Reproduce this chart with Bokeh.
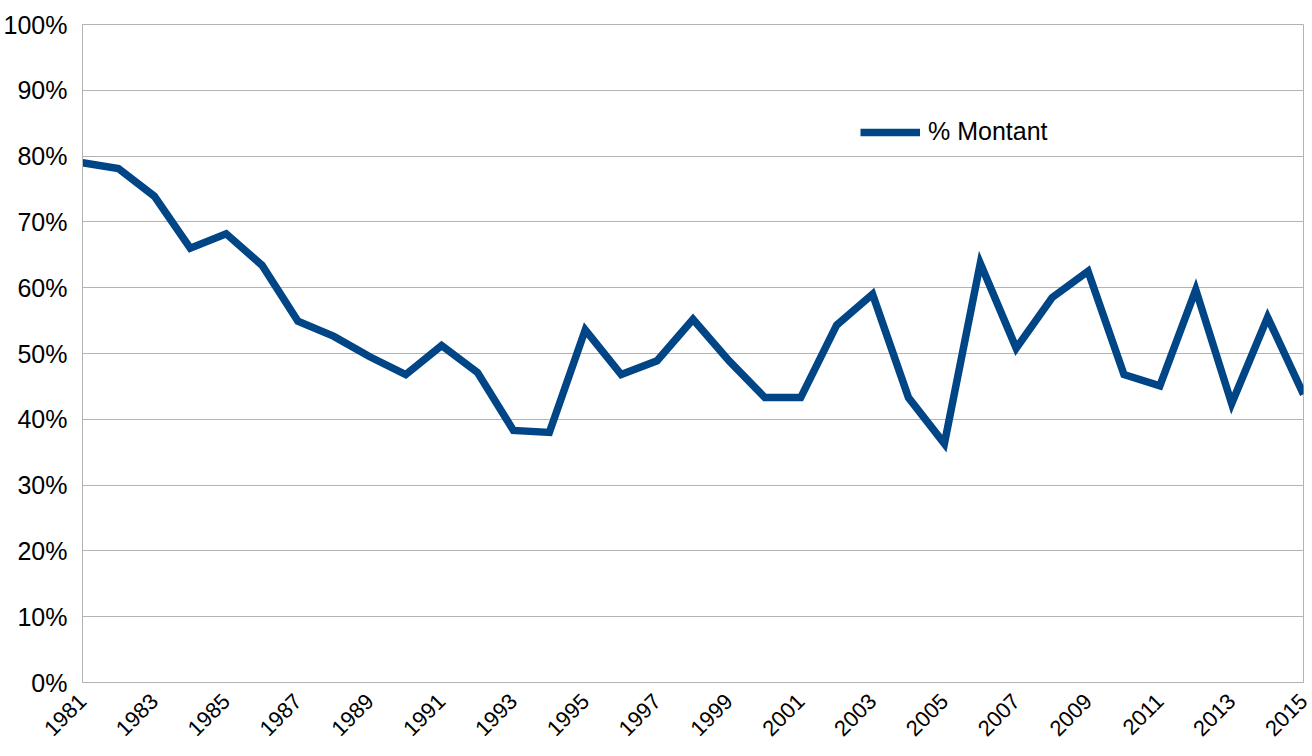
from bokeh.plotting import figure
from bokeh.models import Range1d, PrintfTickFormatter, FixedTicker, Legend, LegendItem
from bokeh.embed import file_html
from bokeh.resources import INLINE
import math

years = list(range(1981, 2016))
pct_montant = [79.0, 78.1, 73.9, 66.0, 68.2, 63.4, 54.9, 52.6, 49.5, 46.8,
               51.2, 47.1, 38.3, 38.0, 53.6, 46.8, 48.9, 55.2, 48.9, 43.3,
               43.3, 54.3, 59.0, 43.3, 36.3, 63.7, 50.8, 58.5, 62.5, 46.8,
               45.1, 59.7, 42.4, 55.5, 43.8]
series_name = "% Montant"
x_ticks = list(range(1981, 2016, 2))
y_ticks = list(range(0, 101, 10))

p = figure(width=1312, height=756, output_backend="svg", toolbar_location=None,
           x_range=Range1d(1981, 2015), y_range=Range1d(0, 100),
           min_border_left=81, min_border_top=24, min_border_right=9, min_border_bottom=74)

r = p.line(years, pct_montant, line_color="#004586", line_width=7.5, line_join="miter")

grey = "#b3b3b3"
p.outline_line_color = grey
p.outline_line_width = 1
p.xgrid.grid_line_color = None
p.ygrid.grid_line_color = grey
p.ygrid.ticker = FixedTicker(ticks=y_ticks)

p.yaxis.ticker = FixedTicker(ticks=y_ticks)
p.yaxis.formatter = PrintfTickFormatter(format="%d%%")
p.xaxis.ticker = FixedTicker(ticks=x_ticks)

for ax in (p.xaxis[0], p.yaxis[0]):
    ax.axis_line_color = grey
    ax.major_tick_line_color = None
    ax.minor_tick_line_color = None
    ax.major_label_text_font = "Liberation Sans"
    ax.major_label_text_color = "#000000"
p.yaxis.major_label_text_font_size = "25px"
p.yaxis.major_label_standoff = 9
p.xaxis.major_label_text_font_size = "22px"
p.xaxis.major_label_orientation = math.pi / 4
p.xaxis.major_label_standoff = 9

legend = Legend(items=[LegendItem(label=series_name, renderers=[r])],
                location=(778, 536), padding=0, margin=0, spacing=0,
                glyph_width=60, glyph_height=24, label_standoff=8,
                label_text_font="Liberation Sans", label_text_font_size="25px",
                label_text_color="#000000",
                border_line_color=None, background_fill_alpha=0)
p.add_layout(legend)

open("out.html", "w").write(file_html(p, INLINE))
